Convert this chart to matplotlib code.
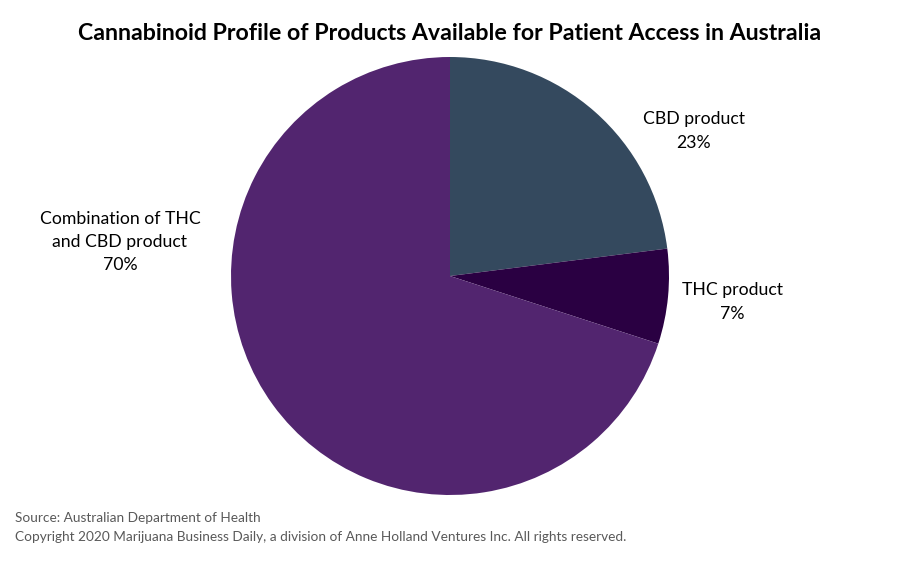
import matplotlib.pyplot as plt

plt.rcParams['font.family'] = ['Lato', 'DejaVu Sans']

# data
labels = ['CBD product', 'THC product', 'Combination of THC\nand CBD product']
shares = [23, 7, 70]
colors = ['#34495E', '#2A0042', '#52256F']

fig = plt.figure(figsize=(9, 5.63), dpi=100)
ax = fig.add_axes([231 / 900, 68 / 563, 438 / 900, 438 / 563])

wedges, _ = ax.pie(shares, colors=colors, startangle=90, counterclock=False,
                   radius=1.0, wedgeprops=dict(linewidth=0))
ax.set_aspect('equal')
ax.set_xlim(-1, 1)
ax.set_ylim(-1, 1)

# label positions (in data units of the pie axes)
label_pos = [(1.114, 0.662), (1.288, -0.119), (-1.507, 0.155)]
for lab, val, (x, y) in zip(labels, shares, label_pos):
    ax.text(x, y, '%s\n%d%%' % (lab, val), ha='center', va='center',
            fontsize=12.7, color='black', linespacing=1.55)

fig.suptitle('Cannabinoid Profile of Products Available for Patient Access in Australia',
             x=0.5, y=1 - 34 / 563, va='center', fontsize=16.7, fontweight='bold', color='black')

fig.text(15 / 900, 1 - 518 / 563, 'Source: Australian Department of Health',
         fontsize=9.85, color='#595959', va='center')
fig.text(15 / 900, 1 - 537 / 563,
         'Copyright 2020 Marijuana Business Daily, a division of Anne Holland Ventures Inc. All rights reserved.',
         fontsize=9.85, color='#595959', va='center')

fig.savefig('out.png', dpi=100)
